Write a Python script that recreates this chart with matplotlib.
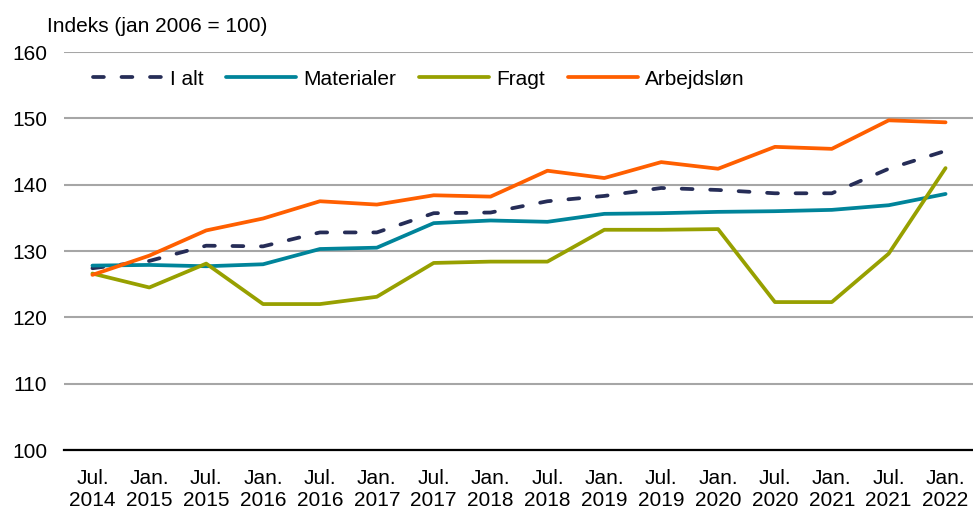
import matplotlib
matplotlib.use("Agg")
import matplotlib.pyplot as plt

plt.rcParams['font.family'] = ['Liberation Sans', 'DejaVu Sans']

labels = ["Jul.\n2014", "Jan.\n2015", "Jul.\n2015", "Jan.\n2016", "Jul.\n2016", "Jan.\n2017",
          "Jul.\n2017", "Jan.\n2018", "Jul.\n2018", "Jan.\n2019", "Jul.\n2019", "Jan.\n2020",
          "Jul.\n2020", "Jan.\n2021", "Jul.\n2021", "Jan.\n2022"]
i_alt = [127.4, 128.5, 130.8, 130.7, 132.8, 132.8, 135.7, 135.8, 137.5, 138.3, 139.5, 139.2,
         138.7, 138.7, 142.4, 145.1]
materialer = [127.8, 127.9, 127.7, 128.0, 130.3, 130.5, 134.2, 134.6, 134.4, 135.6, 135.7, 135.9,
              136.0, 136.2, 136.9, 138.6]
fragt = [126.6, 124.5, 128.1, 122.0, 122.0, 123.1, 128.2, 128.4, 128.4, 133.2, 133.2, 133.3,
         122.3, 122.3, 129.6, 142.5]
arbejdslon = [126.4, 129.3, 133.1, 134.9, 137.5, 137.0, 138.4, 138.2, 142.1, 141.0, 143.4, 142.4,
              145.7, 145.4, 149.7, 149.4]

FS = 15
fig = plt.figure(figsize=(9.73, 5.08), dpi=100)
ax = fig.add_axes([64/973, 1 - 450/508, (974-64)/973, (450-52)/508])

x = list(range(len(labels)))
lw = 2.7
ax.plot(x, i_alt, color="#262D57", lw=lw, dashes=(2.9, 4.7), dash_capstyle='round',
        label="I alt", zorder=3)
ax.plot(x, materialer, color="#00849A", lw=lw, label="Materialer", zorder=3,
        solid_capstyle='round')
ax.plot(x, fragt, color="#97A000", lw=lw, label="Fragt", zorder=3, solid_capstyle='round')
ax.plot(x, arbejdslon, color="#FF5F00", lw=lw, label="Arbejdsløn", zorder=4,
        solid_capstyle='round')

ax.set_xlim(-0.5, len(labels) - 0.5)
ax.set_ylim(100, 160)
ax.set_yticks(range(100, 161, 10))
ax.set_xticks(x)
ax.set_xticklabels(labels, fontsize=FS, linespacing=1.15)
ax.tick_params(axis='y', labelsize=FS, length=0, pad=12)
ax.tick_params(axis='x', length=0, pad=14)
ax.grid(axis='y', color="#A6A6A6", lw=1.5)
ax.set_axisbelow(True)
for k, s in ax.spines.items():
    s.set_visible(k == 'bottom')
ax.spines['bottom'].set_color('black')
ax.spines['bottom'].set_linewidth(1.6)
ax.spines['bottom'].set_zorder(2)

fig.text(47/973, 1 - 26/508, "Indeks (jan 2006 = 100)", fontsize=FS, va='center', ha='left')

leg = ax.legend(loc='upper left', bbox_to_anchor=(0.011, 1.003), ncol=4, frameon=False,
                fontsize=FS, handlelength=3.35, columnspacing=1.1, handletextpad=0.35)

fig.savefig("out.png", dpi=100)
